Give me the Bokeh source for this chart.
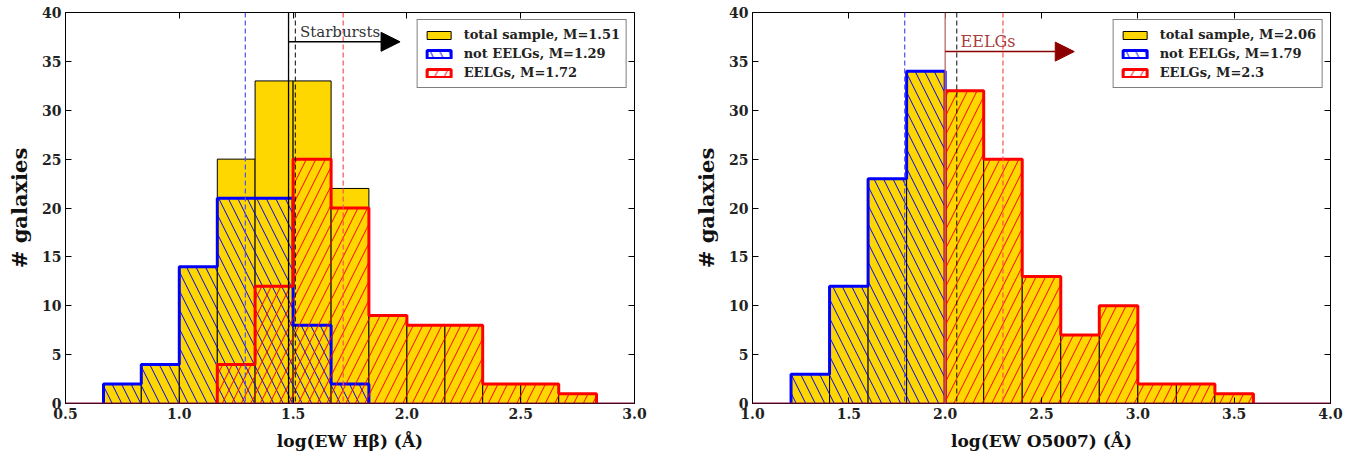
from bokeh.plotting import figure
from bokeh.models import (ColumnDataSource, Span, Arrow, NormalHead, Label, Legend,
                          LegendItem, LinearAxis, SingleIntervalTicker,
                          PrintfTickFormatter, CustomJSTickFormatter, Range1d)
from bokeh.layouts import row
from bokeh.embed import file_html
from bokeh.resources import INLINE

FONT = "DejaVu Serif"
GOLD = "#FFD700"

# --- left panel: log(EW Hbeta) ---
hb_edges = [0.667, 0.833, 1.0, 1.167, 1.333, 1.5, 1.667, 1.833, 2.0,
            2.167, 2.333, 2.5, 2.667, 2.833]
hb_total = [2, 4, 14, 25, 33, 33, 22, 9, 8, 8, 2, 2, 1]
hb_not_eelg = [2, 4, 14, 21, 21, 8, 2, 0, 0, 0, 0, 0, 0]
hb_eelg = [0, 0, 0, 4, 12, 25, 20, 9, 8, 8, 2, 2, 1]
hb_medians = {"total": 1.51, "not": 1.29, "eelg": 1.72}
hb_cut = 1.48

# --- right panel: log(EW O5007) ---
o3_edges = [1.2, 1.4, 1.6, 1.8, 2.0, 2.2, 2.4, 2.6, 2.8, 3.0, 3.2, 3.4, 3.6]
o3_total = [3, 12, 23, 34, 32, 25, 13, 7, 10, 2, 2, 1]
o3_not_eelg = [3, 12, 23, 34, 0, 0, 0, 0, 0, 0, 0, 0]
o3_eelg = [0, 0, 0, 0, 32, 25, 13, 7, 10, 2, 2, 1]
o3_medians = {"total": 2.06, "not": 1.79, "eelg": 2.3}
o3_cut = 2.0

HATCH = 19
HEIGHT = 455


def step_outline(edges, counts):
    nz = [i for i, c in enumerate(counts) if c > 0]
    i0, i1 = nz[0], nz[-1]
    xs, ys = [edges[i0]], [0]
    for i in range(i0, i1 + 1):
        xs += [edges[i], edges[i + 1]]
        ys += [counts[i], counts[i]]
    xs.append(edges[i1 + 1])
    ys.append(0)
    return xs, ys


def bins(edges, counts):
    return ColumnDataSource(dict(left=edges[:-1], right=edges[1:], top=counts,
                                 bottom=[0] * len(counts)))


def style_axis(ax, ticker, show_labels=True):
    ax.ticker = ticker
    ax.major_tick_in = 6
    ax.major_tick_out = 0
    ax.major_tick_line_color = "black"
    ax.minor_tick_line_color = None
    ax.axis_line_color = "black"
    ax.major_label_text_font = FONT
    ax.major_label_text_font_style = "bold"
    ax.major_label_text_color = "#222222"
    ax.major_label_text_font_size = "14px"
    ax.major_label_standoff = 4
    if not show_labels:
        ax.formatter = CustomJSTickFormatter(code="return ''")
        ax.major_label_standoff = 0
        ax.axis_line_color = None


def make_panel(edges, total, not_eelg, eelg, med, cut, cut_color, arrow_end,
               arrow_y, note, note_x, note_color, note_size, x_label, xr,
               width, b_left, b_right):
    p = figure(width=width, height=HEIGHT, x_range=Range1d(*xr), y_range=Range1d(0, 40),
               output_backend="svg", toolbar_location=None,
               min_border_left=b_left, min_border_right=b_right,
               min_border_top=12, min_border_bottom=HEIGHT - 403)
    p.grid.visible = False
    p.outline_line_color = "black"
    p.outline_line_width = 1

    xt = SingleIntervalTicker(interval=0.5, num_minor_ticks=0)
    yt = SingleIntervalTicker(interval=5, num_minor_ticks=0)
    bottom_ax = p.below[0]
    left_ax = p.left[0]
    style_axis(bottom_ax, xt)
    style_axis(left_ax, yt)
    bottom_ax.formatter = PrintfTickFormatter(format="%.1f")
    top = LinearAxis()
    style_axis(top, xt, show_labels=False)
    p.add_layout(top, "above")
    right = LinearAxis()
    style_axis(right, yt, show_labels=False)
    p.add_layout(right, "right")

    bottom_ax.axis_label = x_label
    bottom_ax.axis_label_text_font = FONT
    bottom_ax.axis_label_text_font_style = "bold"
    bottom_ax.axis_label_text_font_size = "17px"
    bottom_ax.axis_label_text_color = "#111111"
    bottom_ax.axis_label_standoff = 9
    left_ax.axis_label = "# galaxies"
    left_ax.axis_label_text_font = FONT
    left_ax.axis_label_text_font_style = "bold"
    left_ax.axis_label_text_font_size = "21px"
    left_ax.axis_label_text_color = "#111111"
    left_ax.axis_label_standoff = 7

    src_tot = bins(edges, total)
    src_not = bins(edges, not_eelg)
    src_ee = bins(edges, eelg)
    r_tot = p.quad(left="left", right="right", top="top", bottom="bottom",
                   source=src_tot, fill_color=GOLD, line_color="black", line_width=1)
    p.quad(left="left", right="right", top="top", bottom="bottom", source=src_not,
           fill_alpha=0, line_color=None, hatch_pattern="\\", hatch_color="blue",
           hatch_weight=1, hatch_scale=HATCH)
    xs, ys = step_outline(edges, not_eelg)
    p.line(xs, ys, line_color="blue", line_width=3)
    p.quad(left="left", right="right", top="top", bottom="bottom", source=src_ee,
           fill_alpha=0, line_color=None, hatch_pattern="/", hatch_color="red",
           hatch_weight=1, hatch_scale=HATCH)
    xs, ys = step_outline(edges, eelg)
    p.line(xs, ys, line_color="red", line_width=3)

    # hidden renderers that only give the legend its outlined, hatched swatches
    r_not = p.quad(left="left", right="right", top="top", bottom="bottom",
                   source=src_not, fill_color="white", line_color="blue",
                   line_width=3, hatch_pattern="\\", hatch_color="blue",
                   hatch_scale=HATCH, visible=False)
    r_ee = p.quad(left="left", right="right", top="top", bottom="bottom",
                  source=src_ee, fill_color="white", line_color="red",
                  line_width=3, hatch_pattern="/", hatch_color="red",
                  hatch_scale=HATCH, visible=False)

    p.add_layout(Span(location=0, dimension="width", line_color="#8b1040",
                      line_width=2))
    p.add_layout(Span(location=cut, dimension="height", line_color=cut_color,
                      line_width=1.3))
    p.add_layout(Span(location=med["not"], dimension="height", line_color="#4d4dff",
                      line_width=1.2, line_dash="5 3"))
    p.add_layout(Span(location=med["total"], dimension="height", line_color="black",
                      line_alpha=0.8, line_width=1.2, line_dash="5 3"))
    p.add_layout(Span(location=med["eelg"], dimension="height", line_color="#ff5050",
                      line_width=1.2, line_dash="5 3"))

    head_color = "black" if note == "Starbursts" else "#8b0000"
    p.add_layout(Arrow(end=NormalHead(size=19, fill_color=head_color,
                                      line_color=head_color),
                       x_start=cut, y_start=arrow_y, x_end=arrow_end, y_end=arrow_y,
                       line_color=head_color, line_width=1.5))
    p.add_layout(Label(x=note_x, y=arrow_y, text=note, text_font=FONT,
                       text_font_size=note_size, text_color=note_color,
                       text_baseline="bottom", y_offset=1))

    legend = Legend(items=[
        LegendItem(label=f"total sample, M={med['total']}", renderers=[r_tot]),
        LegendItem(label=f"not EELGs, M={med['not']}", renderers=[r_not]),
        LegendItem(label=f"EELGs, M={med['eelg']}", renderers=[r_ee]),
    ], location="top_right")
    legend.label_text_font = FONT
    legend.label_text_font_style = "bold"
    legend.label_text_font_size = "13px"
    legend.label_text_color = "#222222"
    legend.glyph_width = 30
    legend.glyph_height = 10
    legend.label_height = 17
    legend.label_standoff = 10
    legend.spacing = 2
    legend.padding = 6
    legend.margin = 7
    legend.border_line_color = "black"
    legend.border_line_width = 1
    legend.background_fill_alpha = 1
    legend.inactive_fill_alpha = 0
    p.add_layout(legend)
    return p


p1 = make_panel(hb_edges, hb_total, hb_not_eelg, hb_eelg, hb_medians, hb_cut, "black",
                1.97, 37, "Starbursts", 1.53, "#333333", "15px",
                "log(EW Hβ) (Å)", (0.5, 3.0), 684, 65, 50)
p2 = make_panel(o3_edges, o3_total, o3_not_eelg, o3_eelg, o3_medians, o3_cut, "#b86a6a",
                2.67, 36, "EELGs", 2.08, "#a83c3c", "16px",
                "log(EW O5007) (Å)", (1.0, 4.0), 666, 68, 20)

p = row(p1, p2)
open("out.html", "w").write(file_html(p, INLINE))
